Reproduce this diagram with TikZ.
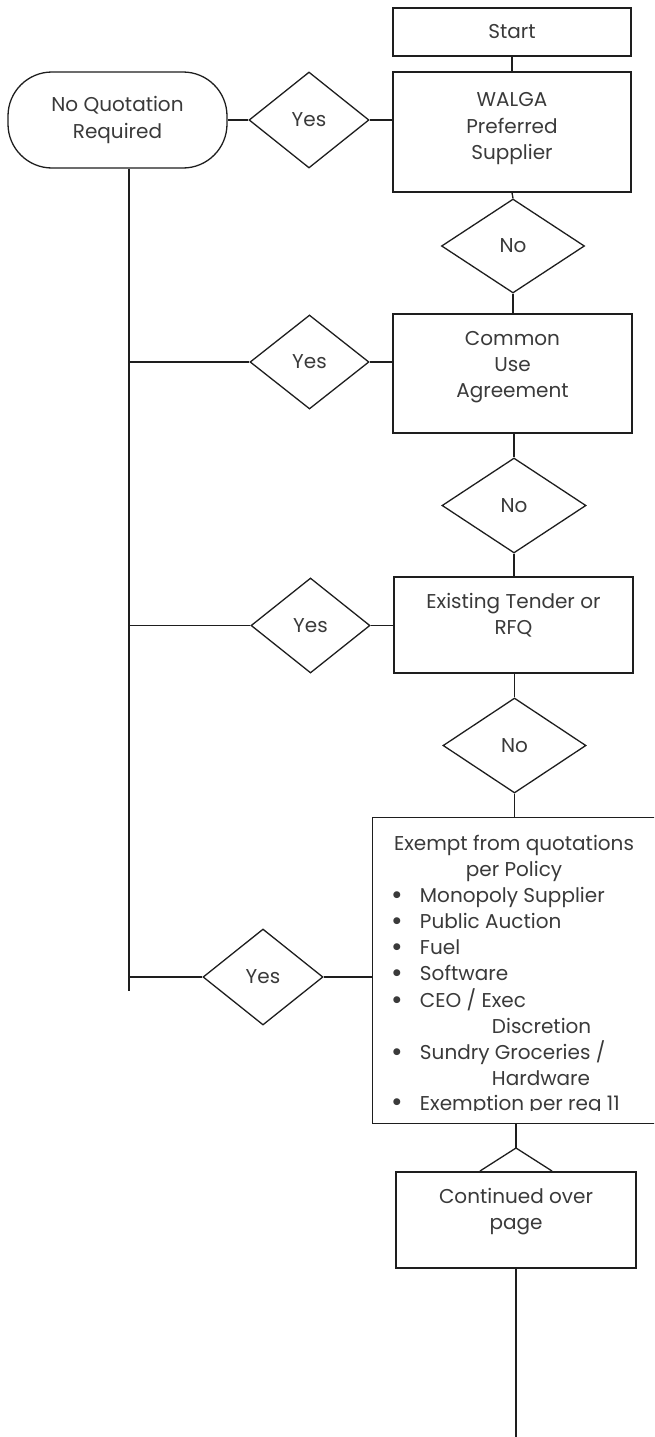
\documentclass[tikz,border=0pt]{standalone}
\usepackage{fontspec}
\setmainfont{Poppins}
\usetikzlibrary{shapes.geometric}
\definecolor{ln}{HTML}{1E1E1E}
\definecolor{tx}{HTML}{3A3A3A}
\begin{document}
\begin{tikzpicture}[x=1pt,y=-1pt,line width=1.3pt,
  every node/.style={font=\fontsize{20}{26.2}\selectfont,text=tx},
  box/.style={draw=ln,rectangle,inner sep=0pt,align=center},
  dia/.style={draw=ln,diamond,inner sep=0pt,minimum width=120pt,minimum height=95pt},
  pill/.style={draw=ln,rectangle,rounded corners=44pt,inner sep=0pt,align=center,minimum width=219pt,minimum height=96pt},
  bul/.style={anchor=base,font=\fontsize{28}{26.2}\selectfont},
  conn/.style={draw=ln,line width=1.3pt}]
\clip (0,0) rectangle (654,1437);
\fill[white] (0,0) rectangle (654,1437);

% main column
\node[box,minimum width=238pt,minimum height=48pt] (start) at (512,32) {Start};
\node[box,minimum width=238pt,minimum height=120pt,text depth=12pt] (walga) at (512,132) {WALGA\\Preferred\\Supplier};
\node[dia,minimum width=143pt,minimum height=94pt] (no1) at (513,246) {No};
\node[box,minimum width=239pt,minimum height=119pt,text depth=18pt] (common) at (512.5,373.5) {Common\\Use\\Agreement};
\node[dia,minimum width=144pt,minimum height=95pt] (no2) at (514,505.5) {No};
\node[box,minimum width=239pt,minimum height=96pt,text depth=22pt] (existing) at (513.5,625) {Existing Tender or\\RFQ};
\node[dia,minimum width=143pt,minimum height=95pt] (no3) at (514.5,745.5) {No};
\node[box,anchor=north west,minimum width=330pt,minimum height=306pt] (exempt) at (372,817) {};
\node[box,minimum width=240pt,minimum height=96pt,text depth=22pt] (cont) at (516,1220) {Continued over\\page};

% exempt text
\begin{scope}
\clip (372,817) rectangle (654,1110.5);
\node[anchor=base] (e1) at (514,850) {Exempt from quotations};
\node[anchor=base] (e2) at (514,876) {per Policy};
\node[bul] (b1) at (397,904) {•};
\node[anchor=base west] (e3) at (416,902) {Monopoly Supplier};
\node[bul] (b2) at (397,930) {•};
\node[anchor=base west] (e4) at (416,928) {Public Auction};
\node[bul] (b3) at (397,956) {•};
\node[anchor=base west] (e5) at (416,954) {Fuel};
\node[bul] (b4) at (397,982) {•};
\node[anchor=base west] (e6) at (416,980) {Software};
\node[bul] (b5) at (397,1009) {•};
\node[anchor=base west] (e7) at (416,1007) {CEO / Exec};
\node[anchor=base west] (e8) at (488,1033) {Discretion};
\node[bul] (b6) at (397,1061) {•};
\node[anchor=base west] (e9) at (416,1059) {Sundry Groceries /};
\node[anchor=base west] (e10) at (488,1085) {Hardware};
\node[bul] (b7) at (397,1111) {•};
\node[anchor=base west] (e11) at (416,1110) {Exemption per reg 11};
\end{scope}

% left side
\node[pill] (nqr) at (117.5,120) {No Quotation\\Required};
\node[dia,minimum width=120pt,minimum height=96pt] (yes1) at (309,120) {Yes};
\node[dia,minimum width=119pt,minimum height=94pt] (yes2) at (309.5,362) {Yes};
\node[dia,minimum width=119pt,minimum height=95pt] (yes3) at (310.5,625.5) {Yes};
\node[dia,minimum width=120pt,minimum height=96pt] (yes4) at (263,977) {Yes};

\coordinate (vend) at (129,991);
\coordinate (tl) at (480,1171);
\coordinate (tt) at (516,1148);
\coordinate (tr) at (552,1171);
\coordinate (bend) at (516,1437);

% vertical connectors
\draw[conn] (start.south) -- (walga.north);
\draw[conn] (walga.south) -- (no1.north);
\draw[conn] (no1.south) -- (common.north -| no1.south);
\draw[conn] (common.south -| no2.north) -- (no2.north);
\draw[conn] (no2.south) -- (existing.north -| no2.south);
\draw[conn] (existing.south -| no3.north) -- (no3.north);
\draw[conn] (no3.south) -- (exempt.north -| no3.south);
\draw[conn] (exempt.south -| tt) -- (tt);
\draw[conn] (tl) -- (tt) -- (tr);
\draw[conn] (cont.south) -- (bend);

% left connectors
\draw[conn] (nqr.east |- yes1.west) -- (yes1.west);
\draw[conn] (yes1.east) -- (yes1.east -| walga.west);
\draw[conn] (vend |- nqr.south) -- (vend);
\draw[conn] (vend |- yes2.west) -- (yes2.west);
\draw[conn] (yes2.east) -- (yes2.east -| common.west);
\draw[conn] (vend |- yes3.west) -- (yes3.west);
\draw[conn] (yes3.east) -- (yes3.east -| existing.west);
\draw[conn] (vend |- yes4.west) -- (yes4.west);
\draw[conn] (yes4.east) -- (yes4.east -| exempt.west);
\end{tikzpicture}
\end{document}
